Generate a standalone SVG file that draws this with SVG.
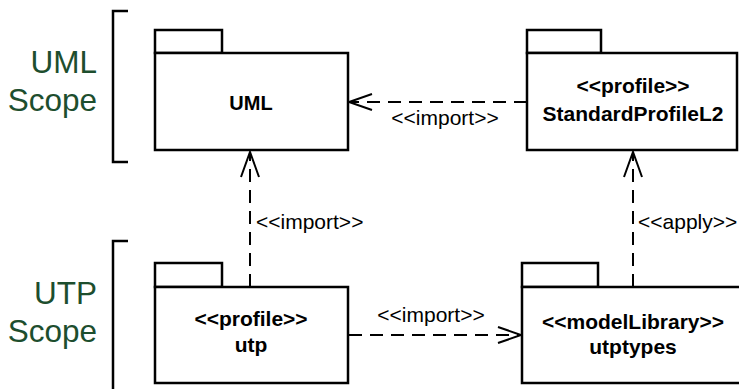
<svg xmlns="http://www.w3.org/2000/svg" width="739" height="389" viewBox="0 0 739 389">
<style>
.pkg{fill:#fff;stroke:#000;stroke-width:2.5}
.br{fill:none;stroke:#000;stroke-width:2.5}
.dash{fill:none;stroke:#000;stroke-width:2;stroke-dasharray:13 8}
.head{fill:none;stroke:#000;stroke-width:2}
.name{font-family:"Liberation Sans",Arial,sans-serif;font-weight:bold;font-size:21px;text-anchor:middle;fill:#000}
.lbl{font-family:"Liberation Sans",Arial,sans-serif;font-size:21px;fill:#000}
.scope{font-family:"Liberation Sans",Arial,sans-serif;font-size:31.5px;fill:#1d4e2e;text-anchor:end}
</style>
<rect width="739" height="389" fill="#fff"/>
<g id="scopes">
<path class="br" d="M128 11 H113 V162 H128"/>
<text class="scope" x="97" y="73">UML</text>
<text class="scope" x="97" y="111">Scope</text>
<path class="br" d="M128 241 H113 V392"/>
<text class="scope" x="97" y="304">UTP</text>
<text class="scope" x="97" y="342">Scope</text>
</g>
<g id="connectors">
<path class="dash" d="M527 102 H350"/>
<path class="head" d="M372 94 L349 102 L372 110"/>
<text class="lbl" x="445" y="125" text-anchor="middle">&lt;&lt;import&gt;&gt;</text>
<path class="dash" d="M250 287 V152"/>
<path class="head" d="M241 177 L250 152 L259 177"/>
<text class="lbl" x="256" y="229">&lt;&lt;import&gt;&gt;</text>
<path class="dash" d="M633 287 V152"/>
<path class="head" d="M624 177 L633 152 L642 177"/>
<text class="lbl" x="638" y="229">&lt;&lt;apply&gt;&gt;</text>
<path class="dash" d="M349 335 H520"/>
<path class="head" d="M498 327 L521 335 L498 343"/>
<text class="lbl" x="431" y="322" text-anchor="middle">&lt;&lt;import&gt;&gt;</text>
</g>
<g id="UML">
<rect class="pkg" x="155" y="30" width="67" height="23"/>
<rect class="pkg" x="155" y="53" width="193" height="97"/>
<text class="name" x="251" y="110" style="font-size:20px">UML</text>
</g>
<g id="StandardProfileL2">
<rect class="pkg" x="527" y="30" width="74" height="23"/>
<rect class="pkg" x="527" y="53" width="210" height="97"/>
<text class="name" x="633" y="93">&lt;&lt;profile&gt;&gt;</text>
<text class="name" x="633" y="121">StandardProfileL2</text>
</g>
<g id="utp">
<rect class="pkg" x="155" y="263" width="67" height="24"/>
<rect class="pkg" x="155" y="287" width="193" height="96"/>
<text class="name" x="251" y="326">&lt;&lt;profile&gt;&gt;</text>
<text class="name" x="251" y="352">utp</text>
</g>
<g id="utptypes">
<rect class="pkg" x="522" y="263" width="76" height="24"/>
<rect class="pkg" x="522" y="287" width="230" height="96"/>
<text class="name" x="633" y="329">&lt;&lt;modelLibrary&gt;&gt;</text>
<text class="name" x="633" y="354">utptypes</text>
</g>
</svg>
